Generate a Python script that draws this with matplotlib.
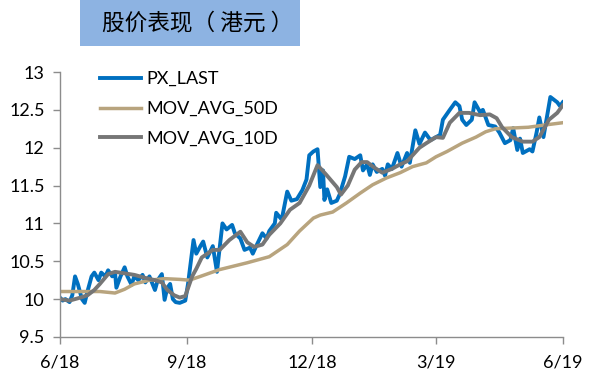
import matplotlib
matplotlib.use('Agg')
import matplotlib.pyplot as plt
import pandas as pd
from matplotlib.patches import Rectangle

start = pd.Timestamp('2018-06-01')

# days since 2018-06-01 and values
px_days = [0, 2, 4, 7, 9, 11, 13, 16, 18, 20, 23, 25, 28, 30, 33, 35, 38, 40, 41, 44,
           47, 49, 52, 54, 57, 60, 62, 65, 69, 71, 74, 76, 78, 80, 82, 84, 87, 91, 93, 97,
           99, 102, 104, 107, 111, 114, 118, 121, 125, 127, 131, 134, 138, 140, 143, 147, 150, 152, 156, 157,
           161, 165, 168, 172, 176, 179, 181, 184, 187, 189, 191, 192, 194, 197, 201, 203, 207, 210, 214, 218,
           220, 223, 225, 227, 230, 234, 236, 238, 241, 245, 248, 252, 254, 258, 261, 265, 269, 271, 274, 276,
           278, 283, 287, 290, 292, 295, 299, 301, 305, 307, 311, 316, 319, 323, 327, 329, 332, 334, 336, 341,
           343, 346, 348, 351, 356, 361, 363, 365]
px_last = [10.02, 9.98, 10.0, 9.96, 10.05, 10.3, 10.2, 10.0, 9.95, 10.1, 10.3, 10.35, 10.25, 10.35, 10.3, 10.38, 10.3, 10.35, 10.15, 10.3,
           10.42, 10.3, 10.19, 10.3, 10.25, 10.32, 10.22, 10.3, 10.12, 10.25, 10.33, 9.99, 10.15, 10.2, 10.0, 9.96, 9.95, 9.98, 10.2, 10.78,
           10.6, 10.7, 10.76, 10.55, 10.7, 10.36, 11.0, 10.92, 10.98, 10.87, 10.8, 10.65, 10.68, 10.6, 10.72, 10.87, 10.8, 10.9, 11.0, 11.14,
           11.05, 11.42, 11.3, 11.32, 11.44, 11.58, 11.9, 11.95, 11.98, 11.48, 11.7, 11.31, 11.45, 11.27, 11.3, 11.38, 11.62, 11.88, 11.85, 11.9,
           11.7, 11.78, 11.64, 11.78, 11.68, 11.72, 11.63, 11.78, 11.72, 11.93, 11.75, 11.93, 11.8, 12.23, 12.05, 12.2, 12.1, 12.12, 12.15, 12.17,
           12.37, 12.5, 12.6, 12.55, 12.37, 12.3, 12.37, 12.6, 12.47, 12.5, 12.3, 12.28, 12.2, 12.06, 12.1, 12.26, 11.97, 12.12, 11.93, 11.98,
           11.95, 12.2, 12.4, 12.14, 12.67, 12.6, 12.55, 12.6]

ma50_days = [0, 15, 29, 40, 47, 54, 65, 76, 87, 94, 102, 116, 136, 152, 165, 174, 184, 189, 198, 208,
             218, 227, 237, 247, 256, 266, 273, 281, 292, 302, 309, 316, 328, 340, 352, 365]
ma50 = [10.1, 10.1, 10.1, 10.08, 10.13, 10.2, 10.25, 10.27, 10.26, 10.25, 10.3, 10.39, 10.48, 10.56, 10.72, 10.9, 11.07, 11.11, 11.15, 11.27,
        11.4, 11.51, 11.6, 11.67, 11.75, 11.8, 11.88, 11.95, 12.06, 12.14, 12.21, 12.25, 12.26, 12.27, 12.3, 12.33]

ma10_days = [0, 7, 15, 20, 25, 29, 35, 40, 47, 54, 62, 69, 74, 78, 83, 87, 91, 96, 99, 103,
             107, 111, 116, 123, 131, 136, 141, 147, 152, 160, 167, 174, 181, 187, 193, 201, 204, 209, 214, 219,
             223, 228, 234, 241, 247, 252, 256, 261, 266, 273, 278, 283, 290, 297, 305, 312, 317, 321, 328, 336,
             343, 348, 355, 361, 365]
ma10 = [10.0, 9.98, 10.02, 10.05, 10.12, 10.2, 10.33, 10.36, 10.34, 10.32, 10.28, 10.25, 10.22, 10.12, 10.05, 10.02, 10.04, 10.3, 10.4, 10.55,
        10.6, 10.65, 10.65, 10.78, 10.89, 10.75, 10.69, 10.72, 10.85, 11.0, 11.18, 11.27, 11.5, 11.77, 11.65, 11.48, 11.38, 11.5, 11.71, 11.81,
        11.81, 11.74, 11.67, 11.72, 11.78, 11.82, 11.9, 12.0, 12.06, 12.14, 12.13, 12.33, 12.46, 12.46, 12.43, 12.44, 12.39, 12.27, 12.14, 12.08,
        12.08, 12.14, 12.37, 12.46, 12.56]

tick_dates = ['2018-06-01', '2018-09-01', '2018-12-01', '2019-03-01', '2019-06-01']
tick_labels = ['6/18', '9/18', '12/18', '3/19', '6/19']
y_ticks = [9.5, 10, 10.5, 11, 11.5, 12, 12.5, 13]
series_names = ['PX_LAST', 'MOV_AVG_50D', 'MOV_AVG_10D']
title = '股价表现（ 港元 ）'


def to_dates(days):
    return start + pd.to_timedelta(days, unit='D')


plt.rcParams['font.family'] = ['Lato', 'DejaVu Sans']

fig = plt.figure(figsize=(5.93, 3.79), dpi=100)
ax = fig.add_axes([0.101, 0.111, 0.848, 0.699])

ax.plot(to_dates(px_days), px_last, color='#0070C0', lw=2.8, label=series_names[0])
ax.plot(to_dates(ma50_days), ma50, color='#B8A47E', lw=2.5, label=series_names[1])
ax.plot(to_dates(ma10_days), ma10, color='#767676', lw=2.8, label=series_names[2])

ax.set_xlim(pd.Timestamp(tick_dates[0]), pd.Timestamp(tick_dates[-1]))
ax.set_ylim(9.5, 13)
ax.set_xticks(pd.to_datetime(tick_dates))
ax.set_xticklabels(tick_labels)
ax.set_yticks(y_ticks)
ax.set_yticklabels([f'{v:g}' for v in y_ticks])

for s in ['top', 'right']:
    ax.spines[s].set_visible(False)
for s in ['left', 'bottom']:
    ax.spines[s].set_color('#8c8c8c')
    ax.spines[s].set_linewidth(1)
ax.tick_params(axis='both', colors='#8c8c8c', labelcolor='black', labelsize=13, length=5, width=1)
ax.tick_params(axis='x', pad=8)
ax.tick_params(axis='y', pad=6)

ax.legend(loc='upper left', bbox_to_anchor=(0.065, 1.03), frameon=False, fontsize=13,
          handlelength=2.3, handletextpad=0.3, labelspacing=0.75, borderaxespad=0)

# title box
fig.patches.append(Rectangle((80 / 593, 1 - 46 / 379), 220 / 593, 46 / 379,
                             transform=fig.transFigure, facecolor='#8DB3E2', edgecolor='none'))
fig.text(198 / 593, 1 - 24 / 379, title, ha='center', va='center', fontsize=16.3,
         family=['Noto Sans CJK SC', 'DejaVu Sans'], weight='medium')

fig.savefig('out.png', dpi=100)
